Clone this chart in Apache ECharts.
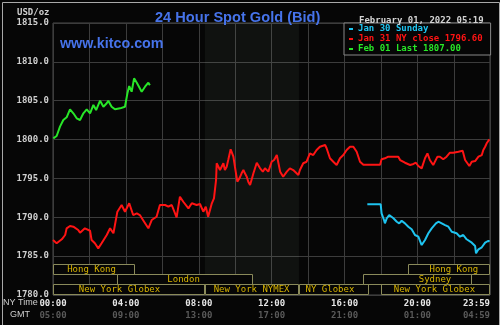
<!DOCTYPE html>
<html><head><meta charset="utf-8">
<script src="https://cdn.jsdelivr.net/npm/echarts@6.0.0/dist/echarts.min.js"></script>
<style>html,body{margin:0;padding:0;background:#fff}#c{width:500px;height:325px}</style>
</head><body><div id="c"></div>
<script>
// ---- data ----
const nyTimeLabels = ['00:00','04:00','08:00','12:00','16:00','20:00','23:59'];
const gmtLabels    = ['05:00','09:00','13:00','17:00','21:00','01:00','04:59'];
const seriesNames  = ['Jan 30 Sunday','Jan 31 NY close 1796.60','Feb 01 Last 1807.00'];

// minutes after NY midnight
const jan30Minutes = [1035,1079,1082,1090,1093,1099,1107,1121,1132,1140,1148,1159,1170,1181,1192,1203,1214,1225,1236,1247,1261,1269,1280,1291,1302,1313,1329,1340,1351,1362,1379,1390,1393,1401,1412,1423,1434,1437];
const jan30Values  = [1791.67,1791.67,1790.51,1789.65,1789.22,1789.87,1790.29,1789.87,1789.43,1789.22,1789.56,1789.22,1788.79,1788.45,1787.72,1787.50,1786.43,1787.08,1787.94,1788.58,1789.22,1789.43,1789.22,1789.0,1788.79,1788.14,1787.94,1787.50,1787.72,1787.17,1786.73,1786.30,1785.36,1785.88,1786.14,1786.73,1786.98,1786.86];

const jan31Minutes = [0,12,29,40,45,56,67,83,89,105,122,127,138,149,160,177,188,199,212,226,237,251,264,276,286,300,314,325,341,352,369,380,391,407,418,429,446,457,473,484,495,503,511,523,530,537,539,544,550,561,566,572,577,585,594,599,607,614,621,627,632,638,643,649,660,671,682,691,698,709,720,728,737,748,758,770,780,791,797,808,813,824,835,846,857,868,879,896,901,912,923,934,945,956,967,978,989,1000,1011,1022,1077,1082,1093,1104,1121,1137,1143,1159,1176,1187,1195,1203,1214,1225,1233,1241,1252,1258,1266,1274,1285,1296,1307,1318,1335,1349,1357,1371,1379,1390,1401,1412,1417,1423,1428,1437];
const jan31Values  = [1787.08,1786.65,1787.17,1787.72,1788.58,1788.88,1788.79,1788.36,1788.02,1788.58,1788.27,1787.08,1786.65,1786.0,1786.65,1787.72,1788.58,1787.94,1790.72,1791.58,1790.72,1791.80,1790.29,1790.51,1790.29,1789.43,1788.58,1789.65,1790.07,1791.58,1791.58,1791.36,1791.58,1790.0,1792.65,1792.0,1791.15,1791.80,1791.58,1791.71,1790.72,1791.36,1790.07,1791.80,1792.44,1794.80,1796.95,1797.15,1796.08,1796.95,1796.08,1796.51,1797.37,1798.75,1797.80,1796.51,1794.58,1795.02,1795.66,1796.08,1795.66,1795.22,1794.58,1794.15,1795.66,1797.02,1796.30,1795.87,1796.30,1795.87,1797.15,1797.37,1798.01,1795.87,1795.22,1795.87,1796.30,1796.08,1796.17,1795.44,1796.08,1796.95,1797.15,1798.23,1798.01,1798.66,1799.08,1799.30,1798.88,1797.59,1797.15,1796.73,1797.59,1798.01,1798.66,1799.08,1799.08,1798.44,1797.15,1796.75,1796.75,1797.46,1797.59,1797.80,1797.80,1797.80,1797.37,1797.02,1796.73,1796.86,1797.02,1796.60,1796.30,1797.59,1798.23,1797.37,1796.73,1796.51,1797.80,1797.80,1797.46,1797.80,1798.31,1798.31,1798.44,1798.57,1797.37,1796.60,1797.15,1797.24,1797.80,1798.01,1798.66,1799.08,1799.52,1800.03];

const feb01Minutes = [1,12,17,23,34,45,56,67,78,89,100,111,122,133,142,155,166,177,182,193,204,221,237,245,251,259,267,276,292,303,314,319];
const feb01Values  = [1800.16,1800.46,1801.01,1801.66,1802.52,1802.87,1803.89,1803.38,1802.74,1802.52,1803.38,1803.89,1803.38,1804.45,1803.80,1805.0,1804.23,1804.67,1805.0,1804.23,1803.89,1804.02,1804.23,1805.95,1806.89,1806.16,1807.88,1807.32,1806.16,1806.80,1807.32,1807.0];

// trading sessions (minutes), row 0 = top
const marketNames  = ['Hong Kong','London','New York Globex','New York NYMEX','NY Globex','New York Globex','Sydney','Hong Kong'];
const marketStart  = [0,210,0,500,810,1080,1020,1170];
const marketEnd    = [270,660,500,810,1040,1439,1380,1439];
const marketRow    = [0,1,2,2,2,2,1,0];
const marketLabelAt= [127,430,219,654,912,1256,1258,1320];
const comexShade   = [500,810];

// ---- chart ----
const chart = echarts.init(document.getElementById('c'), null, {renderer:'canvas'});
const mono = '"DejaVu Sans Mono", monospace';
const zip = (a,b) => a.map((v,i)=>[v,b[i]]);
const colors = ['#1ec4f0','#ff1414','#28e628'];

const option = {
  animation:false,
  backgroundColor:'#060606',
  title:[
    {text:'24 Hour Spot Gold (Bid)', left:150, top:5, textStyle:{color:'#4673ea', fontFamily:'"Liberation Sans", Arial', fontWeight:'bold', fontSize:14.6}},
    {text:'www.kitco.com', left:55, top:32, textStyle:{color:'#4673ea', fontFamily:'"Liberation Sans", Arial', fontWeight:'bold', fontSize:14.3}},
    {text:'February 01, 2022 05:19', left:354, top:11, textStyle:{color:'#d4d4d4', fontFamily:mono, fontWeight:'bold', fontSize:9}}
  ],
  legend:{
    orient:'vertical', left:344, top:23, padding:[1,8,1,5], itemGap:0,
    itemWidth:4, itemHeight:2, icon:'rect',
    backgroundColor:'#060606', borderColor:'#888', borderWidth:1,
    textStyle:{fontFamily:mono, fontWeight:'bold', fontSize:9, lineHeight:10},
    data:seriesNames.map((n,i)=>({name:n, textStyle:{color:colors[i]}})),
    selectedMode:false
  },
  grid:{left:53, top:23, width:437, height:272, show:true, borderColor:'#4a4a4a', borderWidth:1, backgroundColor:'transparent'},
  xAxis:{
    type:'value', min:0, max:1439, interval:120,
    axisLine:{show:false}, axisTick:{show:false},
    splitLine:{show:true, lineStyle:{color:'#3c3c3c', width:1}},
    axisLabel:{
      margin:3, showMaxLabel:true, showMinLabel:true, alignMaxLabel:'right',
      formatter:function(v){
        let i = -1;
        if (v >= 1439) i = 6; else if (v % 240 === 0) i = v/240;
        if (i < 0) return '';
        return '{a|'+nyTimeLabels[i]+'}\n{b|'+gmtLabels[i]+'}';
      },
      rich:{
        a:{color:'#e6e6e6', fontFamily:mono, fontWeight:'bold', fontSize:9, lineHeight:12},
        b:{color:'#5a5a5a', fontFamily:mono, fontWeight:'bold', fontSize:9, lineHeight:12}
      }
    }
  },
  yAxis:{
    type:'value', min:1780, max:1815, interval:5,
    axisLine:{show:false}, axisTick:{show:false},
    splitLine:{show:true, lineStyle:{color:'#3c3c3c', width:1}},
    axisLabel:{margin:4, color:'#d0d0d0', fontFamily:mono, fontWeight:'bold', fontSize:9,
      formatter:v=>v.toFixed(1)}
  },
  graphic:[
    {type:'text', left:17, top:8, style:{text:'USD/oz', fill:'#d0d0d0', font:'bold 9px '+mono}},
    {type:'text', left:3, top:298, style:{text:'NY Time', fill:'#cfcfcf', font:'9px "Liberation Sans", Arial'}},
    {type:'text', left:10, top:310, style:{text:'GMT', fill:'#cfcfcf', font:'9px "Liberation Sans", Arial'}},
    {type:'rect', left:0, top:0, z:100, shape:{width:497, height:324}, style:{fill:'none', stroke:'#a8a8a8', lineWidth:1}}
  ],
  series:[
    {name:seriesNames[0], type:'line', data:zip(jan30Minutes,jan30Values), showSymbol:false, color:colors[0], lineStyle:{width:2}, z:5},
    {name:seriesNames[1], type:'line', data:zip(jan31Minutes,jan31Values), showSymbol:false, color:colors[1], lineStyle:{width:2}, z:5,
      markArea:{silent:true, itemStyle:{color:'rgba(185,215,185,0.06)'}, data:[[{xAxis:comexShade[0]},{xAxis:comexShade[1]}]]}},
    {name:seriesNames[2], type:'line', data:zip(feb01Minutes,feb01Values), showSymbol:false, color:colors[2], lineStyle:{width:2}, z:5},
    {type:'custom', z:4, silent:true,
      data:marketStart.map((s,i)=>[s, marketEnd[i], marketRow[i], marketLabelAt[i]]),
      encode:{x:[0,1,3]},
      renderItem:function(params, api){
        const i = params.dataIndex;
        const s = api.coord([api.value(0), 1780]);
        const e = api.coord([api.value(1), 1780]);
        const m = api.coord([api.value(3), 1780]);
        const row = api.value(2);
        const bottom = params.coordSys.y + params.coordSys.height;
        const top = bottom - (3-row)*10 - 0.5;
        const x0 = Math.round(s[0]) + 0.5, x1 = Math.round(e[0]) - 0.5;
        return {type:'group', children:[
          {type:'rect', shape:{x:x0, y:top, width:x1-x0, height:10},
           style:{fill:'#060606', stroke:'#8a8a5a', lineWidth:1}},
          {type:'text', style:{text:marketNames[i], x:m[0], y:top+5.5, align:'center', verticalAlign:'middle',
            fill:'#d8b400', font:'9px '+mono}}
        ]};
      }
    }
  ]
};
chart.setOption(option);
</script></body></html>
